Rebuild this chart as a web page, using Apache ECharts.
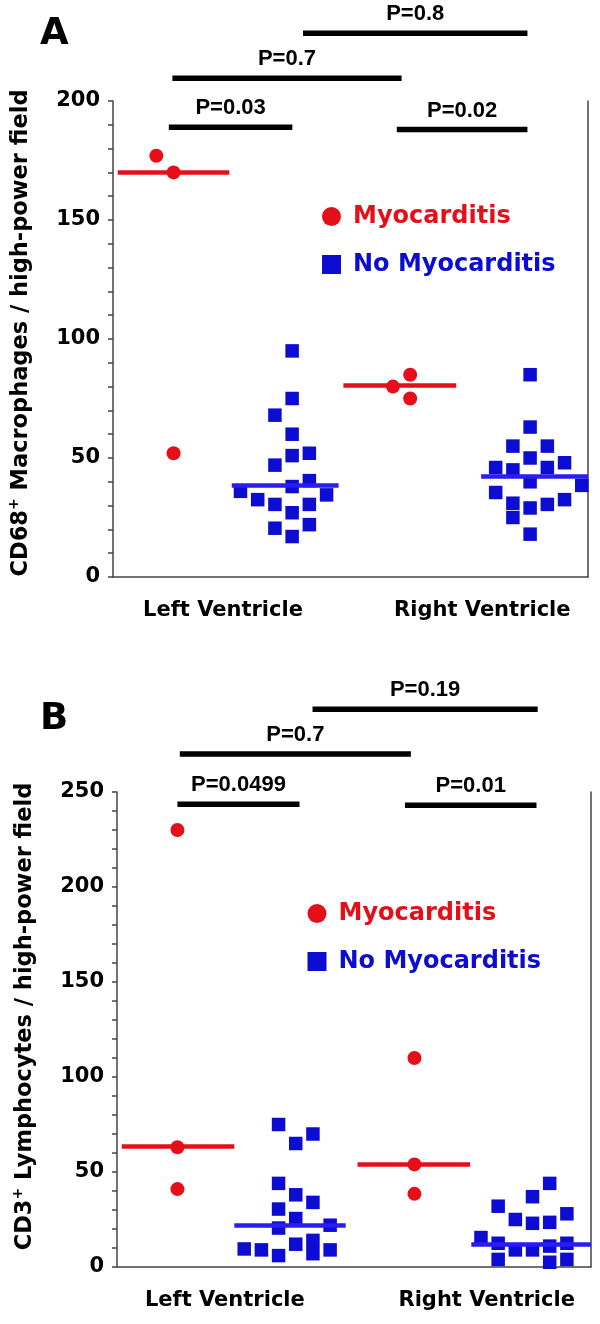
<!DOCTYPE html>
<html>
<head>
<meta charset="utf-8">
<title>CD68 macrophages and CD3 lymphocytes</title>
<script src="https://cdn.jsdelivr.net/npm/echarts@6/dist/echarts.min.js"></script>
<style>
html,body{margin:0;padding:0;background:#fff;}
#chart{width:600px;height:1324px;}
</style>
</head>
<body>
<div id="chart"></div>
<script>
// ---------- data ----------
var groupNames = ['Left Ventricle', 'Right Ventricle'];
var seriesNames = ['Myocarditis', 'No Myocarditis'];

// panel A : CD68+ macrophages / high-power field
var ticksA = [0, 50, 100, 150, 200];
var myoLvA = [177, 170, 52];
var myoLvSlotA = [-1, 0, 0];
var myoRvA = [80, 85, 75];
var myoRvSlotA = [-0.5, 0.5, 0.5];
var noLvA = [95, 75, 68, 60, 51, 52, 47, 40.5, 38, 36, 32.5, 34.5, 30.5, 30.5, 27, 22, 20.5, 17];
var noLvSlotA = [0.5, 0.5, -0.5, 0.5, 0.5, 1.5, -0.5, 1.5, 0.5, -2.5, -1.5, 2.5, -0.5, 1.5, 0.5, 1.5, -0.5, 0.5];
var noRvA = [85, 63, 55, 55, 50, 46, 45, 46, 48, 40, 38.5, 35.5, 31, 32.5, 30.5, 29, 25, 18];
var noRvSlotA = [0.5, 0.5, -0.5, 1.5, 0.5, -1.5, -0.5, 1.5, 2.5, 0.5, 3.5, -1.5, -0.5, 2.5, 1.5, 0.5, -0.5, 0.5];
var medianMyoA = [170, 80.5];
var medianNoA = [38.5, 42.5];
var pLabelsA = ['P=0.03', 'P=0.02', 'P=0.7', 'P=0.8'];
var pFromA = [0.47, 2.39, 0.5, 1.6];
var pToA = [1.51, 3.49, 2.43, 3.49];
var pLevelA = [189, 188, 209.5, 228.5];

// panel B : CD3+ lymphocytes / high-power field
var ticksB = [0, 50, 100, 150, 200, 250];
var myoLvB = [230, 63, 41];
var myoLvSlotB = [0, 0, 0];
var myoRvB = [110, 54, 38.5];
var myoRvSlotB = [0, 0, 0];
var noLvB = [75, 70, 65, 44, 38, 34, 30.5, 25.5, 22, 20.5, 14, 12, 9.5, 9, 7, 6, 9];
var noLvSlotB = [-0.5, 1.5, 0.5, -0.5, 0.5, 1.5, -0.5, 0.5, 2.5, -0.5, 1.5, 0.5, -2.5, -1.5, 1.5, -0.5, 2.5];
var noRvB = [44, 37, 32, 28, 25, 23.5, 23, 15.5, 12.5, 9, 9, 11, 12.5, 4, 2.5, 4];
var noRvSlotB = [1.5, 0.5, -1.5, 2.5, -0.5, 1.5, 0.5, -2.5, -1.5, -0.5, 0.5, 1.5, 2.5, -1.5, 1.5, 2.5];
var medianMyoB = [63.5, 54];
var medianNoB = [22, 12];
var pLabelsB = ['P=0.0499', 'P=0.01', 'P=0.7', 'P=0.19'];
var pFromB = [0.51, 2.43, 0.53, 1.65];
var pToB = [1.54, 3.54, 2.48, 3.55];
var pLevelB = [243.5, 243, 270, 293.5];

// ---------- layout ----------
// column centres: myo LV, no-myo LV, myo RV, no-myo RV
var centersA = [0.51, 1.436, 2.43, 3.44];
var centersB = [0.51, 1.436, 2.51, 3.434];
var slotW = 0.145;
var spansA = [[0.04, 0.98], [1.0, 1.9], [1.94, 2.89], [3.1, 4.0]];
var spansB = [[0.04, 0.99], [0.99, 1.93], [2.03, 2.98], [2.99, 4.0]];
var xLabelPosA = [0.926, 3.11];
var xLabelPosB = [0.91, 3.12];

var RED = '#e50f19';
var BLUE = '#0c0cd2';
var BLUE_LINE = '#2a1cf2';
var AXIS = '#444';
var FONT = 'DejaVu Sans';

function pts(center, vals, slots) {
	return vals.map(function (v, i) { return [center + slots[i] * slotW, v]; });
}
function seg(span, v) {
	return [{ coord: [span[0], v] }, { coord: [span[1], v] }];
}
function valueAxis(grid, ticks, title, gap, pad) {
	return {
		gridIndex: grid, type: 'value',
		min: ticks[0], max: ticks[ticks.length - 1], interval: ticks[1] - ticks[0],
		axisLine: { show: true, lineStyle: { color: AXIS, width: 1.5 } },
		axisTick: { show: true, length: 5, lineStyle: { color: AXIS, width: 1.5 } },
		minorTick: { show: true, splitNumber: 5, length: 5, lineStyle: { color: AXIS, width: 1.5 } },
		splitLine: { show: false },
		minorSplitLine: { show: false },
		axisLabel: { margin: 13, fontSize: 21, fontWeight: 'bold', fontFamily: FONT, color: '#000' },
		name: title, nameLocation: 'middle', nameRotate: 90, nameGap: gap,
		nameTextStyle: {
			padding: [0, 0, 0, pad],
			rich: {
				b: { fontSize: 22.5, lineHeight: 28, fontWeight: 'bold', fontFamily: FONT, color: '#000' },
				s: { fontSize: 14, lineHeight: 14, fontWeight: 'bold', fontFamily: FONT, color: '#000', verticalAlign: 'top' }
			}
		}
	};
}
function frameAxis(grid) {
	return {
		gridIndex: grid, type: 'value', position: 'right', min: 0, max: 1,
		axisLine: { show: true, lineStyle: { color: AXIS, width: 1.5 } },
		axisTick: { show: false }, axisLabel: { show: false }, splitLine: { show: false }
	};
}
function catAxis(grid, pos) {
	return {
		gridIndex: grid, type: 'value', min: 0, max: 4,
		axisLine: { show: true, onZero: false, lineStyle: { color: AXIS, width: 1.5 } },
		axisTick: { show: false }, splitLine: { show: false },
		axisLabel: {
			customValues: pos, margin: 23,
			fontSize: 21, fontWeight: 'bold', fontFamily: FONT, color: '#000',
			formatter: function (v) { var i = pos.indexOf(v); return i < 0 ? '' : groupNames[i]; }
		}
	};
}
function brackets(xi, yi, from, to, level, labels) {
	return {
		type: 'custom', xAxisIndex: xi, yAxisIndex: yi, silent: true,
		data: from.map(function (f, i) { return [f, to[i], level[i]]; }),
		renderItem: function (params, api) {
			var a = api.coord([api.value(0), api.value(2)]);
			var b = api.coord([api.value(1), api.value(2)]);
			return {
				type: 'group', children: [
					{ type: 'line', shape: { x1: a[0], y1: a[1], x2: b[0], y2: b[1] }, style: { stroke: '#000', lineWidth: 5.5 } },
					{ type: 'text', x: (a[0] + b[0]) / 2, y: a[1] - 19,
					  style: { text: labels[params.dataIndex], fill: '#000', fontSize: 22, fontWeight: 'bold',
					           fontFamily: 'Liberation Sans', align: 'center', verticalAlign: 'middle' } }
				]
			};
		}
	};
}
function medianLine(color, d) {
	return { silent: true, symbol: ['none', 'none'], label: { show: false },
		lineStyle: { color: color, width: 4.5, type: 'solid', opacity: 1 }, data: d };
}
function dots(name, xi, yi, symbol, size, color, data, med) {
	return { name: name, type: 'scatter', xAxisIndex: xi, yAxisIndex: yi, symbol: symbol, symbolSize: size,
		itemStyle: { color: color, opacity: 1 }, data: data, markLine: med };
}

var chart = echarts.init(document.getElementById('chart'));
var option = {
	animation: false,
	backgroundColor: '#fff',
	title: [
		{ text: 'A', left: 40, top: 16, padding: 0, textStyle: { fontSize: 37, fontWeight: 'bold', fontFamily: FONT, color: '#000' } },
		{ text: 'B', left: 40, top: 701, padding: 0, textStyle: { fontSize: 37, fontWeight: 'bold', fontFamily: FONT, color: '#000' } }
	],
	legend: [
		{ left: 322, top: 204.5, orient: 'vertical', padding: 0, itemWidth: 19, itemHeight: 19, itemGap: 24, selectedMode: false,
		  textStyle: { fontSize: 24, fontWeight: 'bold', fontFamily: FONT, lineHeight: 19, padding: [0, 0, 0, 7] },
		  data: [{ name: seriesNames[0], icon: 'circle', itemStyle: { opacity: 1 }, textStyle: { color: RED } },
		         { name: seriesNames[1], icon: 'rect', itemStyle: { opacity: 1 }, textStyle: { color: BLUE } }] },
		{ left: 307.5, top: 901.5, orient: 'vertical', padding: 0, itemWidth: 19, itemHeight: 19, itemGap: 24, selectedMode: false,
		  textStyle: { fontSize: 24, fontWeight: 'bold', fontFamily: FONT, lineHeight: 19, padding: [0, 0, 0, 7] },
		  data: [{ name: seriesNames[0], icon: 'circle', itemStyle: { opacity: 1 }, textStyle: { color: RED } },
		         { name: seriesNames[1], icon: 'rect', itemStyle: { opacity: 1 }, textStyle: { color: BLUE } }] }
	],
	grid: [
		{ left: 113, top: 101, width: 475, height: 476, outerBoundsMode: 'none' },
		{ left: 113, top: 1, width: 475, height: 576, outerBoundsMode: 'none' },
		{ left: 117, top: 792, width: 474, height: 475, outerBoundsMode: 'none' },
		{ left: 117, top: 640, width: 474, height: 627, outerBoundsMode: 'none' }
	],
	xAxis: [
		catAxis(0, xLabelPosA),
		{ gridIndex: 1, type: 'value', min: 0, max: 4, show: false },
		catAxis(2, xLabelPosB),
		{ gridIndex: 3, type: 'value', min: 0, max: 4, show: false }
	],
	yAxis: [
		valueAxis(0, ticksA, '{b|CD68}{s|+}{b| Macrophages / high-power field}', 78, 12),
		frameAxis(0),
		{ gridIndex: 1, type: 'value', min: 0, max: 242, show: false },
		valueAxis(2, ticksB, '{b|CD3}{s|+}{b| Lymphocytes / high-power field}', 78, 26),
		frameAxis(2),
		{ gridIndex: 3, type: 'value', min: 0, max: 330, show: false }
	],
	series: [
		dots(seriesNames[0], 0, 0, 'circle', 14, RED,
			pts(centersA[0], myoLvA, myoLvSlotA).concat(pts(centersA[2], myoRvA, myoRvSlotA)),
			medianLine(RED, [seg(spansA[0], medianMyoA[0]), seg(spansA[2], medianMyoA[1])])),
		dots(seriesNames[1], 0, 0, 'rect', 13.5, BLUE,
			pts(centersA[1], noLvA, noLvSlotA).concat(pts(centersA[3], noRvA, noRvSlotA)),
			medianLine(BLUE_LINE, [seg(spansA[1], medianNoA[0]), seg(spansA[3], medianNoA[1])])),
		brackets(1, 2, pFromA, pToA, pLevelA, pLabelsA),
		dots(seriesNames[0], 2, 3, 'circle', 14, RED,
			pts(centersB[0], myoLvB, myoLvSlotB).concat(pts(centersB[2], myoRvB, myoRvSlotB)),
			medianLine(RED, [seg(spansB[0], medianMyoB[0]), seg(spansB[2], medianMyoB[1])])),
		dots(seriesNames[1], 2, 3, 'rect', 13.5, BLUE,
			pts(centersB[1], noLvB, noLvSlotB).concat(pts(centersB[3], noRvB, noRvSlotB)),
			medianLine(BLUE_LINE, [seg(spansB[1], medianNoB[0]), seg(spansB[3], medianNoB[1])])),
		brackets(3, 5, pFromB, pToB, pLevelB, pLabelsB)
	]
};
chart.setOption(option);
</script>
</body>
</html>
